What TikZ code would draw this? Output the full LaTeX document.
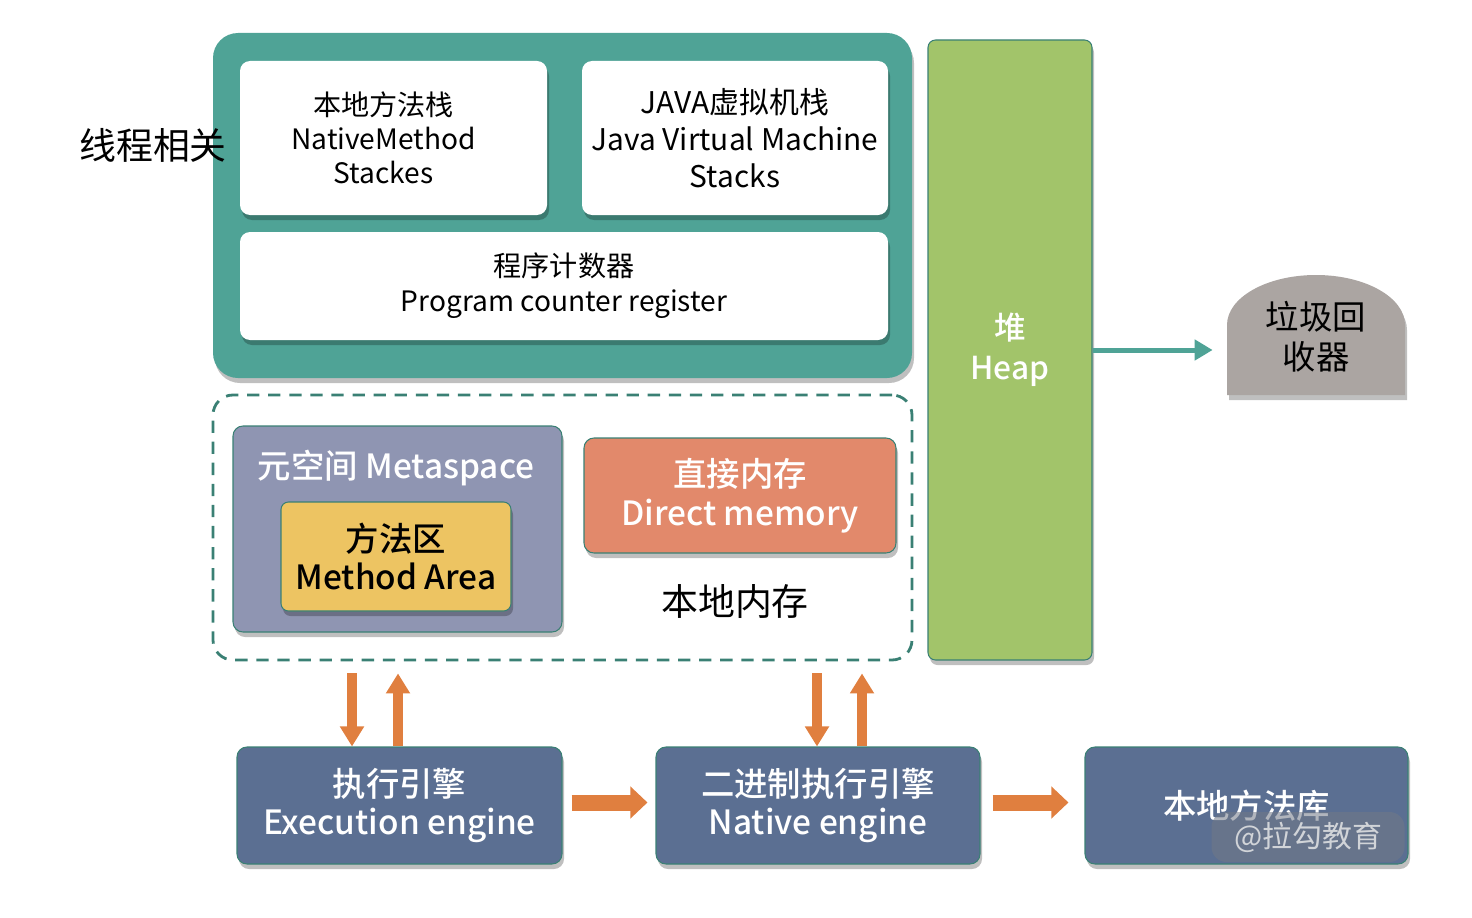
\documentclass[tikz,border=0pt]{standalone}
\usepackage{fontspec}
\setmainfont{Noto Sans CJK SC}
\newfontfamily\medfont{Noto Sans CJK SC Medium}
\usetikzlibrary{arrows.meta,shadows,positioning}

\definecolor{threadteal}{RGB}{79,163,150}
\definecolor{edgeteal}{RGB}{58,128,116}
\definecolor{heapgreen}{RGB}{162,196,106}
\definecolor{gcgray}{RGB}{171,165,162}
\definecolor{metablue}{RGB}{143,149,178}
\definecolor{methodyellow}{RGB}{237,196,98}
\definecolor{directorange}{RGB}{226,137,107}
\definecolor{engineblue}{RGB}{91,111,146}
\definecolor{arroworange}{RGB}{224,127,63}

\begin{document}
\begin{tikzpicture}[
  shade/.style={drop shadow={shadow xshift=0.04cm,shadow yshift=-0.1cm,opacity=0.25,fill=black}},
  box/.style={inner sep=0pt,align=center,rounded corners=0.2cm,shade},
  whitebox/.style={box,fill=white,font=\fontsize{16}{19.5}\selectfont},
  colbox/.style={box,draw=edgeteal,line width=0.6pt,text=white,font=\fontsize{19}{22}\selectfont\medfont},
  enginebox/.style={colbox,fill=engineblue,minimum width=6.5cm,minimum height=2.34cm},
  fatarrow/.style={arroworange,line width=0.2cm,-{Triangle[length=0.4cm,width=0.46cm]}},
  widearrow/.style={arroworange,line width=0.32cm,-{Triangle[length=0.34cm,width=0.62cm]}},
  label/.style={font=\fontsize{21}{24}\selectfont}
]
\useasboundingbox (0,0) rectangle (29.44,-18.36);

% thread related area
\node[box,fill=threadteal,rounded corners=0.5cm,minimum width=13.98cm,minimum height=6.9cm] (thread) at (11.25,-4.11) {};
\node[whitebox,minimum width=6.14cm,minimum height=3.08cm] (nstack) at (7.87,-2.76) {\hspace*{-0.4cm}本地方法栈\\\hspace*{-0.4cm}NativeMethod\\\hspace*{-0.4cm}Stackes};
\node[whitebox,minimum width=6.12cm,minimum height=3.08cm,font=\fontsize{17}{21}\selectfont] (jstack) at (14.70,-2.76) {JAVA虚拟机栈\\Java Virtual Machine\\Stacks};
\node[whitebox,minimum width=12.96cm,minimum height=2.16cm,font=\fontsize{16}{20}\selectfont] (pc) at (11.28,-5.72) {程序计数器\\Program counter register};
\node[label] (threadlabel) at (3.06,-2.90) {线程相关};

% heap and garbage collector
\node[colbox,fill=heapgreen,rounded corners=0.15cm,minimum width=3.28cm,minimum height=12.4cm,font=\fontsize{18}{23}\selectfont\medfont] (heap) at (20.2,-7.0) {堆\\Heap};
\fill[gcgray,shade] (24.54,-7.90) -- (24.54,-6.50) arc[start angle=180,end angle=0,x radius=1.78cm,y radius=1.0cm] -- (28.10,-7.90) -- cycle;
\node[align=center,inner sep=0pt,minimum width=3.56cm,minimum height=2.46cm,font=\fontsize{19}{23}\selectfont] (gc) at (26.32,-6.73) {垃圾回\\收器};
\draw[threadteal,line width=0.1cm,-{Triangle[length=0.36cm,width=0.4cm]}] (heap.east) -- ([xshift=-0.28cm]gc.west |- heap.east);

% local memory
\node[draw=edgeteal,line width=1.6pt,dash pattern=on 7pt off 5pt,rounded corners=0.4cm,minimum width=13.98cm,minimum height=5.3cm] (mem) at (11.25,-10.55) {};
\node[box,fill=metablue,draw=edgeteal,line width=0.6pt,minimum width=6.58cm,minimum height=4.12cm] (meta) at (7.95,-10.58) {};
\node[text=white,font=\fontsize{19}{22}\selectfont\medfont] (metatitle) at (7.92,-9.36) {元空间 Metaspace};
\node[colbox,fill=methodyellow,text=black,rounded corners=0.15cm,minimum width=4.6cm,minimum height=2.18cm] (method) at (7.92,-11.13) {方法区\\Method Area};
\node[colbox,fill=directorange,minimum width=6.24cm,minimum height=2.3cm] (direct) at (14.8,-9.91) {直接内存\\Direct memory};
\node[label] (memlabel) at (14.70,-12.04) {本地内存};

% engines
\node[enginebox] (exec) at (7.99,-16.11) {执行引擎\\Execution engine};
\node[enginebox,minimum width=6.48cm] (native) at (16.36,-16.11) {二进制执行引擎\\Native engine};
\node[enginebox,minimum width=6.46cm] (lib) at (24.93,-16.11) {\raisebox{-0.2cm}{本地方法库}};

\draw[fatarrow] ([xshift=-0.95cm,yshift=-0.24cm]exec.north |- mem.south) -- ([xshift=-0.95cm]exec.north);
\draw[fatarrow] ([xshift=-0.03cm]exec.north) -- ([xshift=-0.03cm,yshift=-0.24cm]exec.north |- mem.south);
\draw[fatarrow] ([xshift=-0.02cm,yshift=-0.24cm]native.north |- mem.south) -- ([xshift=-0.02cm]native.north);
\draw[fatarrow] ([xshift=0.88cm]native.north) -- ([xshift=0.88cm,yshift=-0.24cm]native.north |- mem.south);
\draw[widearrow] ([xshift=0.18cm,yshift=0.06cm]exec.east) -- ([xshift=-0.16cm,yshift=0.06cm]native.west);
\draw[widearrow] ([xshift=0.24cm,yshift=0.06cm]native.east) -- ([xshift=-0.32cm,yshift=0.06cm]lib.west);

% watermark
\node[fill=gray!60!engineblue,fill opacity=0.55,text opacity=0.8,text=white!85!gray,rounded corners=0.3cm,minimum width=3.86cm,minimum height=1.0cm,font=\fontsize{17}{20}\selectfont] (mark) at (26.16,-16.74) {@拉勾教育};
\end{tikzpicture}
\end{document}
